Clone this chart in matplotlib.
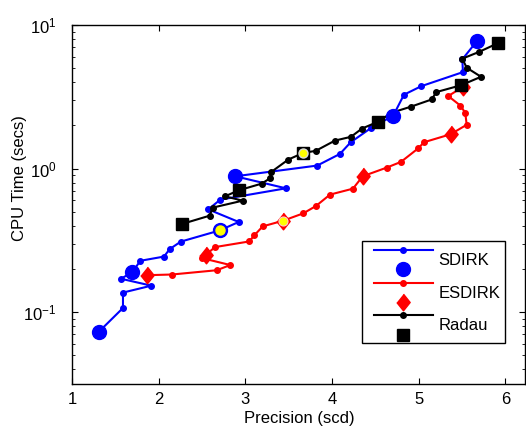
import matplotlib
matplotlib.use('Agg')
import matplotlib.pyplot as plt
import numpy as np
from matplotlib.lines import Line2D
from matplotlib.legend_handler import HandlerBase
from matplotlib import rcParams

config = {
    "font.family": ['Liberation Sans', 'DejaVu Sans'],
    "font.size": 12,
    "mathtext.fontset": 'custom',
    "mathtext.rm": 'Liberation Sans',
    "mathtext.it": 'Liberation Sans:italic',
    "mathtext.bf": 'Liberation Sans:bold',
}
rcParams.update(config)

# precision (significant correct digits) vs CPU time, every 5th run marked big
sdirk_prec = [1.311, 1.588, 1.588, 1.915, 1.565, 1.696, 1.788, 2.061, 2.127, 2.254,
              2.703, 2.923, 2.572, 2.711, 3.468, 2.884, 3.829, 4.091, 4.215, 4.445,
              4.706, 4.829, 5.029, 5.510, 5.502, 5.668]
sdirk_time = [0.0732, 0.107, 0.137, 0.153, 0.171, 0.190, 0.228, 0.244, 0.275, 0.310,
              0.371, 0.425, 0.520, 0.608, 0.729, 0.884, 1.05, 1.266, 1.526, 1.91,
              2.34, 3.27, 3.75, 4.70, 5.76, 7.69]

esdirk_prec = [1.865, 2.153, 2.669, 2.826, 2.500, 2.542, 2.649, 3.045, 3.103, 3.200,
               3.437, 3.668, 3.814, 3.976, 4.241, 4.353, 4.630, 4.795, 4.995, 5.060,
               5.368, 5.553, 5.536, 5.479, 5.340, 5.513]
esdirk_time = [0.181, 0.183, 0.196, 0.213, 0.238, 0.250, 0.284, 0.311, 0.343, 0.396,
               0.434, 0.488, 0.549, 0.659, 0.725, 0.884, 1.016, 1.114, 1.386, 1.526,
               1.735, 2.02, 2.45, 2.75, 3.20, 3.72]

radau_prec = [2.265, 2.588, 2.623, 2.969, 2.765, 2.923, 3.188, 3.284, 3.299, 3.495,
              3.668, 3.811, 4.033, 4.218, 4.345, 4.529, 4.687, 4.910, 5.149, 5.202,
              5.490, 5.718, 5.553, 5.502, 5.691, 5.917]
radau_time = [0.411, 0.470, 0.535, 0.598, 0.641, 0.706, 0.786, 0.856, 0.948, 1.156,
              1.287, 1.329, 1.567, 1.665, 1.90, 2.12, 2.45, 2.70, 3.03, 3.41,
              3.81, 4.36, 5.04, 5.83, 6.48, 7.49]

names = ['SDIRK', 'ESDIRK', 'Radau']
xTicks = [1, 2, 3, 4, 5, 6]
highlight = 10  # run shown with a yellow dot

diamond = [(0, 1), (0.8, 0), (0, -1), (-0.8, 0)]
styles = [
    dict(color='#0000ff', marker='o', ms=10),
    dict(color='#ff0000', marker=diamond, ms=12),
    dict(color='#000000', marker='s', ms=8.5),
]


class HandlerStack(HandlerBase):
    # line with small dot on top, big marker underneath
    def create_artists(self, legend, orig_handle, xdescent, ydescent,
                       width, height, fontsize, trans):
        line, big = orig_handle
        x0 = -xdescent + 0.34 * fontsize
        x1 = -xdescent + width
        yc = -ydescent + height / 2
        l1 = Line2D([x0, x1], [yc + 0.58 * fontsize] * 2, color=line.get_color(), lw=1.5)
        l2 = Line2D([(x0 + x1) / 2], [yc + 0.58 * fontsize], color=line.get_color(),
                    marker='o', ms=4, lw=0)
        l3 = Line2D([(x0 + x1) / 2], [yc - 0.58 * fontsize], color=big.get_color(),
                    marker=big.get_marker(), ms=big.get_markersize(), lw=0)
        for a in (l1, l2, l3):
            a.set_transform(trans)
        return [l1, l2, l3]


fig = plt.figure(figsize=(5.26, 4.26), dpi=100)
ax = fig.add_axes([0.1369, 0.0986, 0.8603, 0.8427])

data = [(sdirk_prec, sdirk_time), (esdirk_prec, esdirk_time), (radau_prec, radau_time)]
handles = []
for (px, py), st in zip(data, styles):
    px = np.array(px)
    py = np.array(py)
    ln, = ax.plot(px, py, '-', color=st['color'], lw=1.5, marker='o', ms=4, zorder=2)
    bg, = ax.plot(px[::5], py[::5], lw=0, color=st['color'], marker=st['marker'],
                  ms=st['ms'], zorder=3)
    handles.append((ln, bg))

# yellow dots on the highlighted runs
ax.plot(sdirk_prec[highlight], sdirk_time[highlight], 'o', color='#ffff00', ms=6.5,
        mec='#ffff00', zorder=4)
ax.plot(esdirk_prec[highlight], esdirk_time[highlight], 'o', color='#ffff00', ms=6.5,
        mec='#ffcccc', mew=0.8, zorder=4)
ax.plot(radau_prec[highlight], radau_time[highlight], 'o', color='#ffff00', ms=6.5,
        mec='#dddddd', mew=1.0, zorder=4)

ax.set_yscale('log')
ax.set_xlim(1, 6.22)
ax.set_ylim(10 ** -1.5, 10)
ax.set_xticks(xTicks)
ax.set_xticklabels([str(t) for t in xTicks])
ax.tick_params(which='both', direction='in', top=True, right=True)
ax.tick_params(which='major', length=4, width=0.8)
ax.tick_params(which='minor', length=2.5, width=0.6)
ax.tick_params(axis='x', pad=6)
ax.tick_params(axis='y', pad=11)
for sp in ax.spines.values():
    sp.set_linewidth(1.0)

ax.set_xlabel('Precision (scd)')
ax.set_ylabel('CPU Time (secs)')
ax.xaxis.set_label_coords(0.503, -0.075)
ax.yaxis.set_label_coords(-0.10, 0.575)

leg = ax.legend(handles, names, handler_map={tuple: HandlerStack()},
                loc='lower left', bbox_to_anchor=(0.640, 0.113, 0.317, 0.34),
                mode='expand', borderaxespad=0, borderpad=0.4,
                handlelength=3.86, handleheight=1.8, labelspacing=0.55,
                handletextpad=0.34, fancybox=False, framealpha=1)
leg.get_frame().set_edgecolor('black')
leg.get_frame().set_linewidth(1.0)

plt.savefig('out.png', dpi=100)
